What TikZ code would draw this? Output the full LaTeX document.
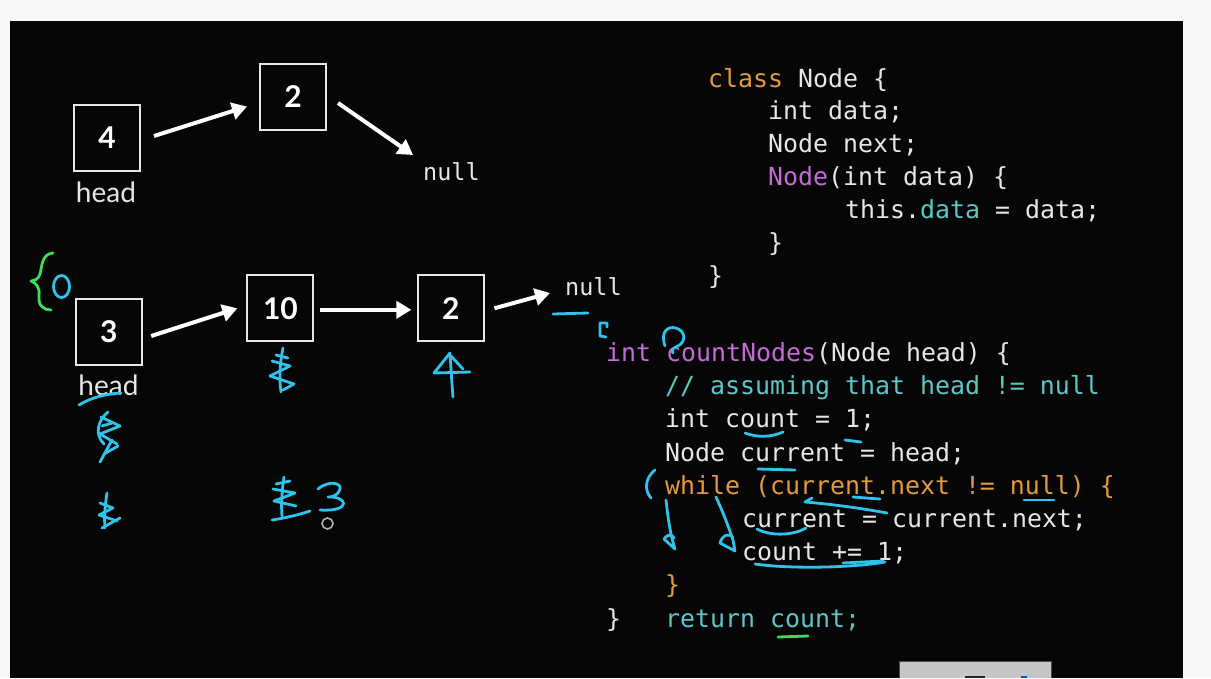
\documentclass[tikz,border=0pt]{standalone}
\usepackage{fontspec}
\setmonofont{DejaVu Sans Mono}
\newfontfamily\labelfont{Lato}
\usetikzlibrary{arrows.meta,calc}
\definecolor{pagebg}{HTML}{F8F8F8}
\definecolor{screen}{HTML}{060607}
\definecolor{codewhite}{HTML}{E6E6E6}
\definecolor{kworange}{HTML}{E39A40}
\definecolor{kwpurple}{HTML}{C46BD6}
\definecolor{kwteal}{HTML}{5CC6C8}
\definecolor{annblue}{HTML}{2EC3EA}
\definecolor{anngreen}{HTML}{3FDC5A}
\definecolor{barbg}{HTML}{C6C6C6}
\tikzset{
  code/.style={anchor=base west, inner sep=0pt, font=\ttfamily\fontsize{24.9}{30}\selectfont, text=codewhite},
  nulltxt/.style={anchor=base west, inner sep=0pt, font=\ttfamily\fontsize{23.5}{28}\selectfont, text=codewhite},
  lbox/.style={draw=codewhite, line width=2pt, minimum size=66pt, inner sep=0pt, text=white, font=\labelfont\bfseries\fontsize{30}{34}\selectfont},
  headtxt/.style={anchor=base, inner sep=0pt, text=codewhite, font=\labelfont\fontsize{28}{32}\selectfont},
  arr/.style={draw=white, line width=4pt, -{Triangle[length=15pt,width=17pt]}},
  hand/.style={draw=annblue, line width=2.8pt, line cap=round, line join=round},
  handg/.style={draw=anngreen, line width=2.8pt, line cap=round, line join=round}
}
\begin{document}
\begin{tikzpicture}[x=1pt,y=-1pt]
\useasboundingbox (0,0) rectangle (1211,678);
\fill[pagebg] (0,0) rectangle (1211,678);
\fill[screen] (10,21) rectangle (1183,678);
% bottom control bar
\fill[barbg] (899,661) rectangle (1051,678);
\draw[black!70, line width=1pt] (899,678) -- (899,661) -- (1051,661) -- (1051,678);
\fill[black!85] (965,675.5) rectangle (985,678);
\fill[blue!70!cyan] (1021,675.5) rectangle (1027,678);

% ---------- top list ----------
\node[lbox] (b4) at (107,138) {4};
\node[lbox] (b2t) at (293,97) {2};
\node[headtxt] (h1) at (106,202.5) {head};
\node[nulltxt] (n1) at (423,180) {null};
\coordinate (n1end) at (413,155);
\draw[arr] ($(b4.east)+(13,-2)$) -- ($(b2t.west)+(-12,9.5)$);
\draw[arr] ($(b2t.east)+(11,6)$) -- (n1end);

% ---------- second list ----------
\node[lbox] (b3) at (108.7,332) {3};
\node[lbox] (b10) at (280.4,308.3) {10};
\node[lbox] (b2) at (450.9,308.3) {2};
\node[headtxt] (h2) at (108.5,395) {head};
\node[nulltxt] (n2) at (565,295) {null};
\coordinate (n2end) at (550,293);
\draw[arr] ($(b3.east)+(8.5,4)$) -- ($(b10.west)+(-9,0)$);
\draw[arr] ($(b10.east)+(6,1.5)$) -- ($(b2.west)+(-5.5,1.5)$);
\draw[arr] ($(b2.east)+(9.5,0)$) -- (n2end);

% ---------- class Node ----------
\node[code] (c1) at (708,87) {\textcolor{kworange}{class} Node \{};
\node[code] (c2) at (768,119.5) {int data;};
\node[code] (c3) at (768,152) {Node next;};
\node[code] (c4) at (768,185) {\textcolor{kwpurple}{Node}(int data) \{};
\node[code] (c5) at (845,218) {this.\textcolor{kwteal}{data} = data;};
\node[code] (c6) at (768,251) {\}};
\node[code] (c7) at (708,284) {\}};

% ---------- countNodes ----------
\node[code] (d1) at (606,361.5) {\textcolor{kwpurple}{int countNodes}(Node head) \{};
\node[code,text=kwteal] (d2) at (665,394.7) {// assuming that head != null};
\node[code] (d3) at (665,427.9) {int count = 1;};
\node[code] (d4) at (665,461.1) {Node current = head;};
\node[code,text=kworange] (d5) at (665,494.3) {while (current.next != null) \{};
\node[code] (d6) at (742,527.5) {current = current.next;};
\node[code] (d7) at (742,560.7) {count += 1;};
\node[code,text=kworange] (d8) at (665,593.9) {\}};
\node[code] (d9) at (606,627.1) {\}};
\node[code,text=kwteal] (d10) at (665,627.1) {return count;};

% ---------- handwritten annotations (left) ----------
\draw[handg] (53,253) .. controls (41,254) and (42,268) .. (40,274) .. controls (38,280) and (35,280) .. (31,281) .. controls (36,283) and (40,287) .. (39,296) .. controls (38,306) and (44,310) .. (51,310);
\draw[hand] (61.5,286.5) ellipse [x radius=8, y radius=11];
\draw[hand] (79,405) .. controls (92,397) and (106,394) .. (121,393);
% scribble under head
\draw[hand] (108,412) .. controls (98,420) and (94,434) .. (104,444);
\draw[hand] (101,417) -- (120,426) -- (100,434) -- (117,444);
\draw[hand] (112,440) -- (100,462);
\draw[hand] (104,454) -- (118,446);
\draw[hand] (102,426) -- (112,423);
% scribble lower left
\draw[hand] (107,493) .. controls (105,505) and (104,518) .. (105,528);
\draw[hand] (100,503) -- (113,508) -- (99,515) -- (117,521);
\draw[hand] (102,528) -- (120,518);
% scribble under 10
\draw[hand] (283,348) .. controls (280,362) and (279,378) .. (281,392);
\draw[hand] (272,361) -- (290,366) -- (270,376) -- (294,384) -- (283,390);
\draw[hand] (276,355) -- (288,358);
% 4-like under 2
\draw[hand] (450,353) -- (434,373) -- (470,372);
\draw[hand] (451,356) -- (463,369);
\draw[hand] (450,353) .. controls (451,370) and (452,385) .. (453,397);
% scribble bottom middle
\draw[hand] (284,477) .. controls (282,490) and (281,505) .. (282,516);
\draw[hand] (273,489) -- (295,493) -- (274,501) -- (296,506);
\draw[hand] (272,520) .. controls (285,518) and (298,515) .. (310,511);
\draw[hand] (276,484) -- (290,481);
% handwritten 3
\draw[hand] (318,489) .. controls (330,479) and (346,483) .. (338,493) .. controls (334,497) and (330,497) .. (328,497) .. controls (348,496) and (352,512) .. (320,510);
% cursor circle
\draw[gray!60, line width=1.6pt] (327.5,523.5) circle [radius=5.5];

% ---------- handwritten annotations (code) ----------
\draw[hand] (553,314) -- (588,313);
\draw[hand] (607,327) -- (607,323) -- (600,323) -- (600,336) -- (606,337);
\draw[hand] (665,346) .. controls (660,331) and (668,326) .. (676,328) .. controls (686,331) and (686,342) .. (678,346) .. controls (673,348) and (671,350) .. (673,353);
\draw[hand] (745,433) .. controls (758,438) and (772,437) .. (783,432);
\draw[hand] (845,440) -- (861,442);
\draw[hand] (758,469) -- (795,470);
\draw[hand] (655,470) .. controls (645,478) and (644,490) .. (651,498);
\draw[hand] (853,497) -- (880,499);
\draw[hand] (1024,500) -- (1054,500);
\draw[hand] (812,498) -- (805,502) .. controls (830,504) and (860,508) .. (887,513);
\draw[hand] (757,529) .. controls (770,536) and (792,536) .. (806,528);
\draw[hand] (755,564) .. controls (790,569) and (850,568) .. (885,562);
\draw[hand] (843,563) -- (883,561);
\draw[hand] (666,500) .. controls (668,518) and (670,533) .. (675,549) -- (664,539) .. controls (667,534) and (672,534) .. (674,538);
\draw[hand] (716,497) .. controls (722,510) and (728,525) .. (733,540) -- (735,551) -- (720,543) .. controls (722,535) and (730,532) .. (733,538);
\draw[handg] (778,637) -- (808,636);
\end{tikzpicture}
\end{document}
